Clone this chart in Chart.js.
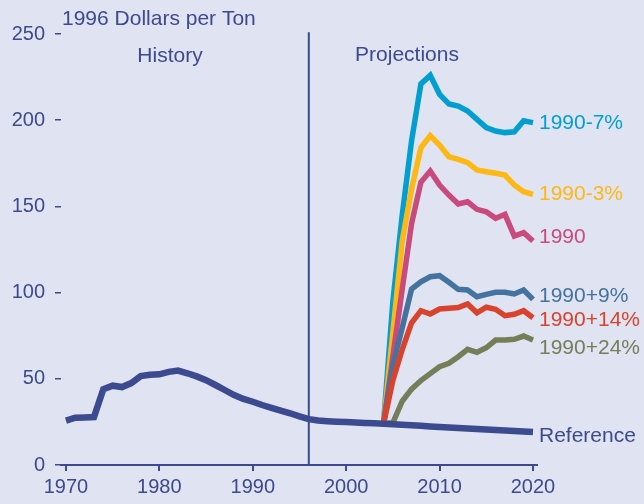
<!DOCTYPE html>
<html>
<head>
  <meta charset="utf-8" />
  <title>Coal price projections</title>
  <script src="https://cdn.jsdelivr.net/npm/chart.js"></script>
  <style>
    body { margin: 0; background: #e0e3f1; }
    #wrap { width: 644px; height: 504px; }
  </style>
</head>
<body>
  <div id="wrap"><canvas id="priceChart" width="644" height="504"></canvas></div>
  <script>
    // years on the x axis
    const histYears = [];
    for (let y = 1970; y <= 2020; y++) histYears.push(y);
    const projYears = [2004, 2005, 2006, 2007, 2008, 2009, 2010, 2011, 2012, 2013, 2014, 2015, 2016, 2017, 2018, 2019, 2020];
    const xTickYears = [1970, 1980, 1990, 2000, 2010, 2020];
    const yTickValues = [0, 50, 100, 150, 200, 250];

    // 1996 dollars per ton
    const reference = [
      25.7, 27.4, 27.6, 27.8, 44.0, 46.0, 45.2, 47.5, 51.6, 52.4,
      52.6, 54.0, 54.8, 53.2, 51.4, 49.2, 46.4, 43.5, 40.6, 38.3,
      36.7, 34.8, 33.2, 31.5, 30.0, 28.2, 26.6, 25.8, 25.4, 25.1,
      24.9, 24.6, 24.4, 24.2, 23.9, 23.6, 23.3, 23.0, 22.7, 22.4,
      22.1, 21.8, 21.5, 21.2, 20.9, 20.6, 20.3, 20.0, 19.7, 19.4,
      19.1
    ];
    const minus7 = [23.9, 95, 145, 188, 221, 226, 215, 209.4, 208.2, 205.3, 200.5, 195.7, 193.7, 192.8, 193.3, 199.7, 198.6];
    const minus3 = [23.9, 77, 130, 160, 184, 191, 185.6, 178.8, 177.3, 175.4, 171.1, 170.1, 169.2, 168.2, 162.4, 158.5, 157];
    const level1990 = [23.9, 63, 102, 140, 164, 170.5, 162.4, 156.6, 151.4, 152.7, 148.3, 146.9, 143.1, 145.4, 132.8, 134.8, 129.9];
    const plus9 = [23.9, 58, 79.5, 102, 106.3, 109.2, 109.8, 106, 101.9, 101.5, 97.6, 99, 100.2, 100.2, 99.2, 101.5, 96.1];
    const plus14 = [23.9, 49, 67, 82.5, 89.5, 87.6, 90.5, 90.9, 91.3, 93.4, 88.3, 91.5, 90.3, 86.6, 87.4, 89.5, 85.4];
    const plus24 = [23.9, 24.5, 37, 44, 49, 53, 57, 59, 62.8, 67.1, 65.4, 68, 72.5, 72.5, 72.9, 74.8, 72.5];

    const NAVY = '#3c4a8f';
    const FONT = '"Liberation Sans", Arial, sans-serif';

    function pairs(xs, ys) {
      return ys.map((v, i) => ({ x: xs[i], y: v }));
    }

    // label offsets (px) keep the end labels from running into each other
    const seriesList = [
      { label: 'Reference', years: histYears, values: reference, color: NAVY, width: 6.5, dy: 4 },
      { label: '1990+24%', years: projYears, values: plus24, color: '#767d59', width: 5.5, dy: 8 },
      { label: '1990+14%', years: projYears, values: plus14, color: '#d9432d', width: 5.5, dy: 2 },
      { label: '1990+9%', years: projYears, values: plus9, color: '#43739e', width: 5.5, dy: -3 },
      { label: '1990', years: projYears, values: level1990, color: '#c94b7d', width: 5.5, dy: -4 },
      { label: '1990-3%', years: projYears, values: minus3, color: '#fdb813', width: 5.5, dy: 0 },
      { label: '1990-7%', years: projYears, values: minus7, color: '#009fd0', width: 5.5, dy: 1 }
    ];

    const decorations = {
      id: 'decorations',
      beforeDraw(chart) {
        const ctx = chart.ctx;
        ctx.save();
        ctx.fillStyle = '#e0e3f1';
        ctx.fillRect(0, 0, chart.width, chart.height);
        ctx.restore();
      },
      beforeDatasetsDraw(chart) {
        const { ctx, scales: { x, y } } = chart;
        const px = x.getPixelForValue(1996);
        ctx.save();
        ctx.strokeStyle = NAVY;
        ctx.lineWidth = 2;
        ctx.beginPath();
        ctx.moveTo(px, y.getPixelForValue(251));
        ctx.lineTo(px, y.getPixelForValue(0));
        ctx.stroke();
        ctx.restore();
      },
      afterDatasetsDraw(chart) {
        const { ctx, scales: { x, y } } = chart;
        ctx.save();
        ctx.font = '21px ' + FONT;
        ctx.textBaseline = 'middle';
        ctx.fillStyle = NAVY;
        ctx.textAlign = 'left';
        ctx.fillText('1996 Dollars per Ton', 62, 19);
        ctx.textAlign = 'center';
        ctx.fillText('History', 170, 56);
        ctx.fillText('Projections', 407, 55);

        // end-of-line labels
        ctx.font = '21px ' + FONT;
        ctx.textAlign = 'left';
        seriesList.forEach(s => {
          const last = s.values[s.values.length - 1];
          const lx = x.getPixelForValue(2020) + 6;
          const ly = y.getPixelForValue(last) + s.dy;
          ctx.fillStyle = s.color;
          ctx.fillText(s.label, lx, ly);
        });
        ctx.restore();
      }
    };

    const ctx = document.getElementById('priceChart').getContext('2d');
    new Chart(ctx, {
      type: 'line',
      data: {
        datasets: seriesList.map(s => ({
          label: s.label,
          data: pairs(s.years, s.values),
          borderColor: s.color,
          borderWidth: s.width,
          pointRadius: 0,
          tension: 0,
          fill: false
        }))
      },
      options: {
        responsive: false,
        animation: false,
        layout: { padding: { top: 34, right: 107, bottom: 0, left: 0 } },
        plugins: {
          legend: { display: false },
          tooltip: { enabled: false }
        },
        scales: {
          x: {
            type: 'linear',
            min: 1969.47,
            max: 2020.43,
            afterBuildTicks: scale => { scale.ticks = xTickYears.map(v => ({ value: v })); },
            afterFit: scale => { scale.height = 39; },
            grid: { drawOnChartArea: false, color: NAVY, lineWidth: 2, tickLength: 6 },
            border: { display: true, color: NAVY, width: 2 },
            ticks: {
              color: NAVY,
              font: { family: FONT, size: 20 },
              padding: 4,
              maxRotation: 0,
              callback: v => String(v)
            }
          },
          y: {
            min: 0,
            max: 250,
            afterBuildTicks: scale => { scale.ticks = yTickValues.map(v => ({ value: v })); },
            afterFit: scale => { scale.width = 61; },
            grid: { drawOnChartArea: false, color: NAVY, lineWidth: 1.5, tickLength: 6 },
            border: { display: false },
            ticks: {
              color: NAVY,
              font: { family: FONT, size: 20 },
              padding: 10,
              callback: v => String(v)
            }
          }
        }
      },
      plugins: [decorations]
    });
  </script>
</body>
</html>
